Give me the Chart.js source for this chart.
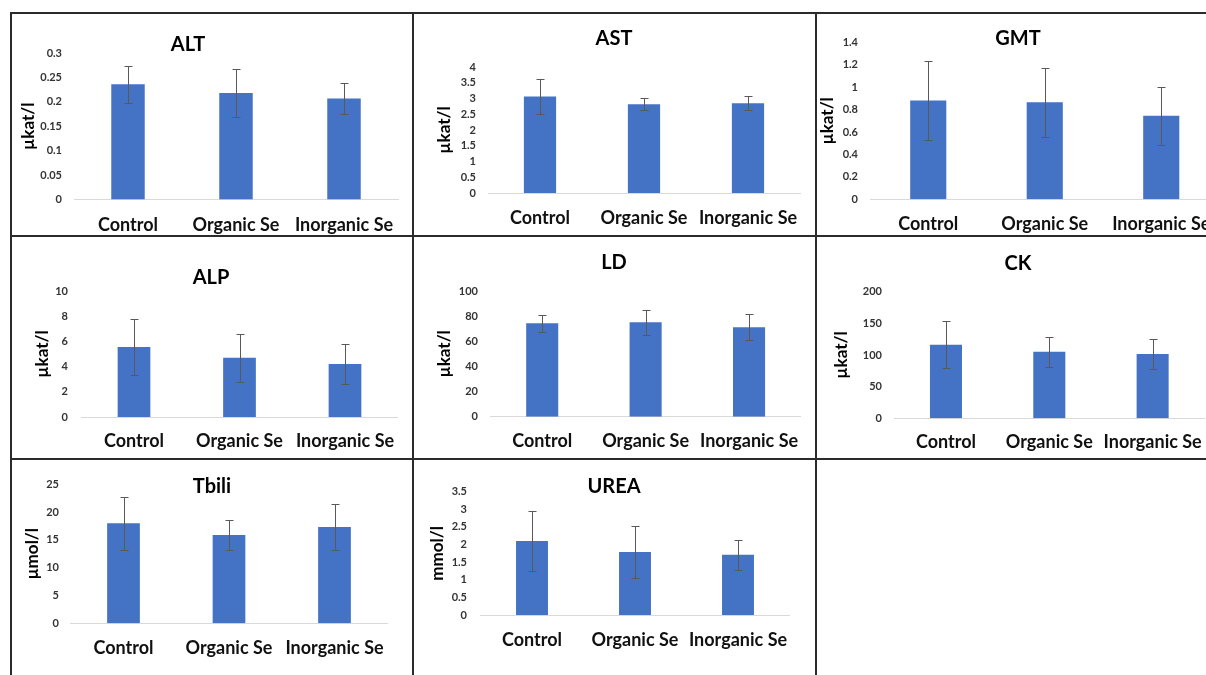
<!DOCTYPE html>
<html>
<head>
<meta charset="utf-8">
<script src="https://cdn.jsdelivr.net/npm/chart.js@4.4.1/dist/chart.umd.min.js"></script>
<style>
  body { margin: 0; background: #fff; width: 1206px; height: 675px; overflow: hidden; position: relative; }
  .ln { position: absolute; background: #2b2b2b; }
  canvas { position: absolute; }
</style>
</head>
<body>
<!-- table grid -->
<div class="ln" style="left:10px;top:12px;width:1196px;height:2px"></div>
<div class="ln" style="left:10px;top:235px;width:1196px;height:2px"></div>
<div class="ln" style="left:10px;top:458px;width:1196px;height:2px"></div>
<div class="ln" style="left:10px;top:12px;width:2px;height:663px"></div>
<div class="ln" style="left:412px;top:12px;width:2px;height:663px"></div>
<div class="ln" style="left:815px;top:12px;width:2px;height:663px"></div>

<script>
// DATA
const categories = ['Control', 'Organic Se', 'Inorganic Se'];
const titles = ['ALT', 'AST', 'GMT', 'ALP', 'LD', 'CK', 'Tbili', 'UREA'];
const units = ['µkat/l', 'µkat/l', 'µkat/l', 'µkat/l', 'µkat/l', 'µkat/l', 'µmol/l', 'mmol/l'];

const altMean = [0.236, 0.218, 0.207];   const altSd = [0.038, 0.050, 0.031];
const astMean = [3.06, 2.82, 2.85];      const astSd = [0.55, 0.20, 0.22];
const gmtMean = [0.88, 0.865, 0.745];    const gmtSd = [0.35, 0.31, 0.26];
const alpMean = [5.55, 4.70, 4.20];      const alpSd = [2.2, 1.9, 1.57];
const ldMean = [74.3, 75.1, 71.1];       const ldSd = [6.8, 10.0, 10.4];
const ckMean = [116, 105, 101.6];        const ckSd = [37, 23.5, 24];
const tbiliMean = [18.0, 15.9, 17.3];    const tbiliSd = [4.8, 2.65, 4.1];
const ureaMean = [2.10, 1.79, 1.71];     const ureaSd = [0.85, 0.75, 0.43];

// y axis tick ranges
const yMax = [0.3, 4, 1.4, 10, 100, 200, 25, 3.5];
const yStep = [0.05, 0.5, 0.2, 2, 20, 50, 5, 0.5];

const means = [altMean, astMean, gmtMean, alpMean, ldMean, ckMean, tbiliMean, ureaMean];
const sds = [altSd, astSd, gmtSd, alpSd, ldSd, ckSd, tbiliSd, ureaSd];

// LAYOUT (page px): title centre, plot box, tick edge, axis title x, x label y, row
const row1 = [14, 235], row2 = [237, 458], row3 = [460, 675];
const panels = [
  { tc: 188,  ty: 45,  top: 53,    bottom: 199.5, left: 74,    right: 398,    tickR: 62,  yx: 29,  xly: 225, row: row1 },
  { tc: 614,  ty: 39,  top: 67,    bottom: 193,   left: 488,   right: 800,    tickR: 476, yx: 445, xly: 218, row: row1 },
  { tc: 1018, ty: 39,  top: 42.3,  bottom: 199.3, left: 870,   right: 1219.5, tickR: 858, yx: 828, xly: 224, row: row1 },
  { tc: 211,  ty: 278, top: 291,   bottom: 417,   left: 81.25, right: 397.75, tickR: 68,  yx: 43,  xly: 441, row: row2 },
  { tc: 614,  ty: 263, top: 291,   bottom: 416.7, left: 490.5, right: 800.75, tickR: 478, yx: 445, xly: 441, row: row2 },
  { tc: 1018, ty: 264, top: 291.7, bottom: 418.3, left: 894.3, right: 1204.3, tickR: 882, yx: 842, xly: 442, row: row2 },
  { tc: 212,  ty: 487, top: 484.3, bottom: 623.3, left: 70.75, right: 387.25, tickR: 59,  yx: 33,  xly: 648, row: row3 },
  { tc: 614,  ty: 487, top: 491.7, bottom: 615,   left: 480.5, right: 789.5,  tickR: 467, yx: 438, xly: 640, row: row3 }
];

Chart.defaults.font.family = 'Lato, "Open Sans", sans-serif';

// ERROR BARS (mean +/- sd through the y scale)
const errorBars = {
  id: 'errorBars',
  afterDatasetsDraw(chart, args, opts) {
    const ctx = chart.ctx, y = chart.scales.y;
    const data = chart.data.datasets[0].data;
    ctx.save();
    ctx.strokeStyle = '#595959';
    ctx.lineWidth = 1;
    chart.getDatasetMeta(0).data.forEach((bar, i) => {
      const x = Math.round(bar.x) + 0.5;
      const yt = Math.round(y.getPixelForValue(data[i] + opts.sd[i])) + 0.5;
      const yb = Math.round(y.getPixelForValue(data[i] - opts.sd[i])) + 0.5;
      ctx.beginPath();
      ctx.moveTo(x, yt); ctx.lineTo(x, yb);
      ctx.moveTo(x - 4, yt); ctx.lineTo(x + 4, yt);
      ctx.moveTo(x - 4, yb); ctx.lineTo(x + 4, yb);
      ctx.stroke();
    });
    ctx.restore();
  }
};

function makeChart(i) {
  const p = panels[i];
  const cT = p.row[0], cB = p.row[1];
  const axisLeft = 2 * p.tc - p.right;          // keeps the title centred on tc
  const cL = Math.floor(Math.min(axisLeft, p.yx - 12) - 2);
  const cR = Math.ceil(p.right + 40);           // room so x labels never squeeze the plot

  const cv = document.createElement('canvas');
  cv.width = cR - cL;
  cv.height = cB - cT;
  cv.style.left = cL + 'px';
  cv.style.top = cT + 'px';
  document.body.appendChild(cv);

  new Chart(cv.getContext('2d'), {
    type: 'bar',
    data: {
      labels: categories,
      datasets: [{
        data: means[i],
        backgroundColor: '#4472c4',
        barPercentage: 0.31,
        categoryPercentage: 1
      }]
    },
    plugins: [errorBars],
    options: {
      responsive: false,
      animation: false,
      layout: { padding: { left: axisLeft - cL, right: cR - p.right, top: 0, bottom: 0 } },
      plugins: {
        legend: { display: false },
        tooltip: { enabled: false },
        errorBars: { sd: sds[i] },
        title: {
          display: true,
          text: titles[i],
          color: '#000',
          font: { size: 20, weight: 'bold', lineHeight: 1 },
          padding: { top: p.ty - cT - 10, bottom: p.top - p.ty - 10 }
        }
      },
      scales: {
        x: {
          grid: { display: false, drawTicks: false },
          border: { display: true, color: '#d9d9d9', width: 1 },
          ticks: {
            color: '#111',
            font: { size: 18, weight: 'bold', lineHeight: 1 },
            padding: p.xly - p.bottom - 9,
            maxRotation: 0,
            autoSkip: false
          },
          afterFit: s => { s.height = cB - p.bottom; }
        },
        y: {
          min: 0,
          max: yMax[i],
          grid: { display: false, drawTicks: false },
          border: { display: false },
          ticks: {
            stepSize: yStep[i],
            autoSkip: false,
            padding: p.left - p.tickR,
            color: '#333',
            font: { size: 11, weight: 'bold' },
            callback: v => +v.toFixed(2)
          },
          title: {
            display: true,
            text: units[i],
            color: '#000',
            font: { size: 17, weight: 'bold', lineHeight: 1 },
            padding: { top: p.yx - axisLeft - 8.5, bottom: 0 }
          },
          afterFit: s => { s.width = p.left - axisLeft; }
        }
      }
    }
  });
}

for (let i = 0; i < titles.length; i++) makeChart(i);
</script>
</body>
</html>
